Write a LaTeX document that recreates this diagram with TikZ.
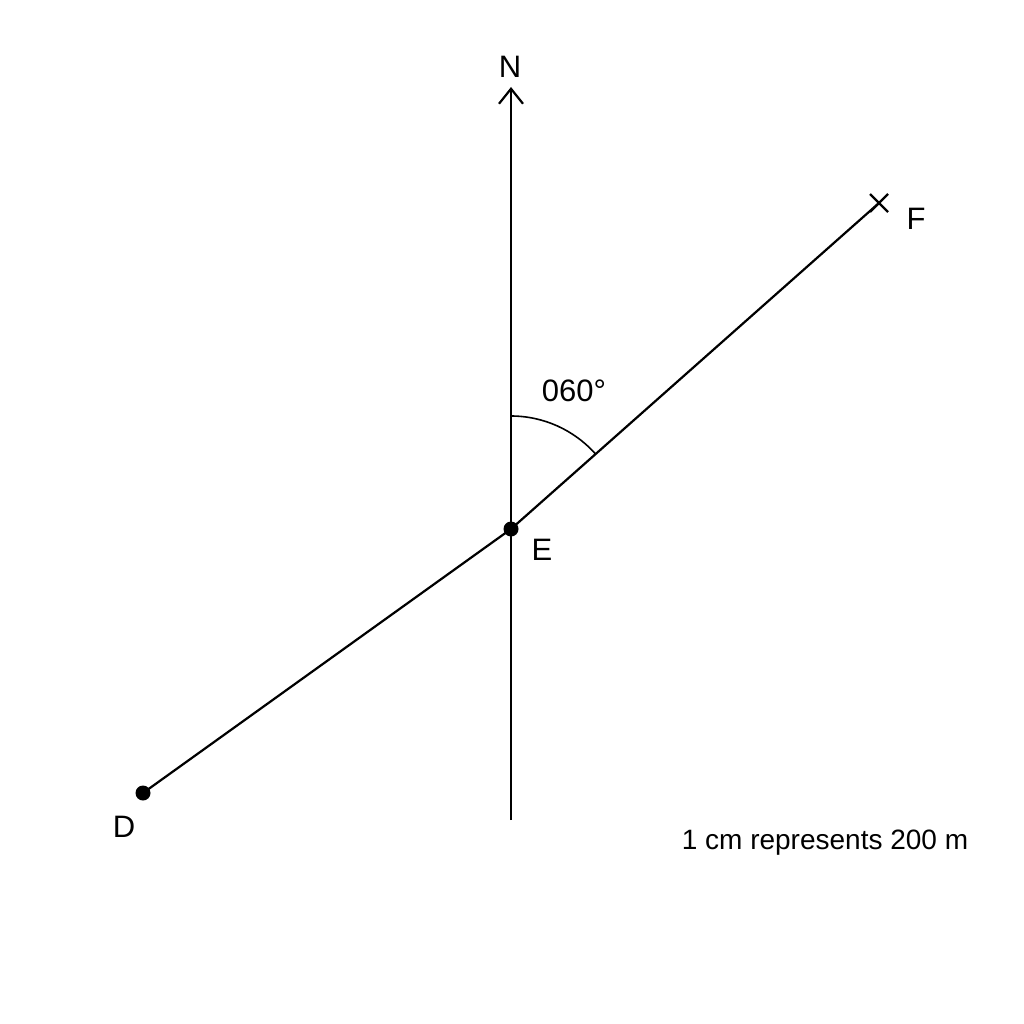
\documentclass[tikz,border=0pt]{standalone}
\usepackage{fontspec}
\setmainfont{Liberation Sans}
\usetikzlibrary{arrows.meta,calc}
\begin{document}
\begin{tikzpicture}[x=1pt,y=-1pt,
  ln/.style={line width=2.2pt,black},
  lbl/.style={font=\fontsize{31}{34}\selectfont,inner sep=0pt},
  dotpt/.style={circle,fill=black,inner sep=0pt,minimum size=15pt}]
\useasboundingbox (0,0) rectangle (1024,1024);
\fill[white] (0,0) rectangle (1024,1024);
\coordinate (Ntop) at (511,87);
\coordinate (Sbot) at (511,820);
\node[dotpt] (E) at (511,529) {};
\node[dotpt] (D) at (143,793) {};
\coordinate (F) at (879,203);
\draw[ln,-{Straight Barb[length=15pt,width=24pt,line width=2.2pt]}] (Sbot) -- (Ntop);
\draw[ln] (D.center) -- (E.center) -- (F);
\draw[ln] ($(F)+(-9,-9)$) -- ($(F)+(9,9)$);
\draw[ln] ($(F)+(-9,9)$) -- ($(F)+(9,-9)$);
\draw[line width=1.6pt] (511,416) arc[start angle=-90,end angle=-41.5,radius=113];
\node[lbl] (Nl) at (510,67) {N};
\node[lbl] (Fl) at (916,219) {F};
\node[lbl] (El) at (542,550) {E};
\node[lbl] (Dl) at (124,827) {D};
\node[lbl] (ang) at (574,391) {060°};
\node[inner sep=0pt,font=\fontsize{28}{32}\selectfont] (sc) at (825,843) {1 cm represents 200 m};
\end{tikzpicture}
\end{document}
